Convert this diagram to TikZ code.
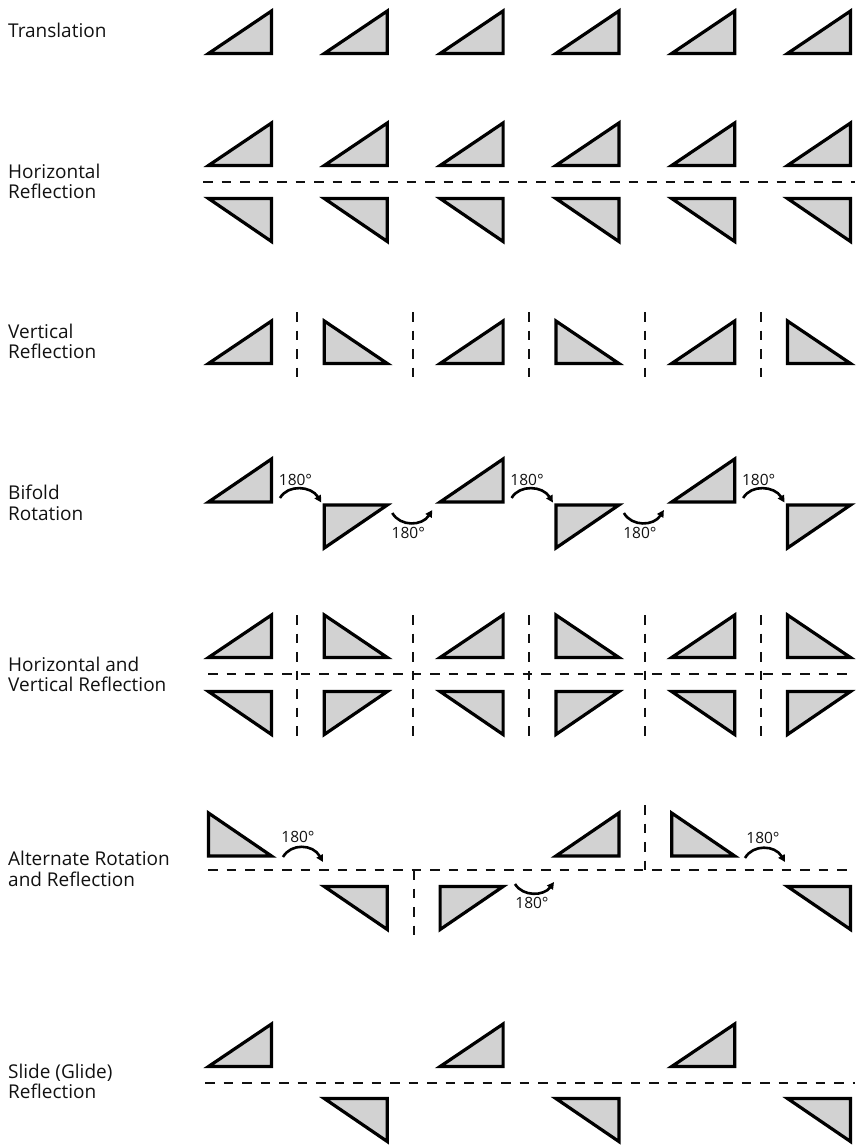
\documentclass[tikz,border=0pt]{standalone}
\usepackage{fontspec}
\setmainfont{Open Sans}
\usetikzlibrary{arrows.meta,calc}
\definecolor{trifill}{HTML}{D2D2D2}
\definecolor{ink}{HTML}{111111}
\tikzset{
  tri/.style={draw=black, fill=trifill, line width=3.2pt, line join=miter},
  mirrorline/.style={draw=ink, line width=2pt, dash pattern=on 9.5pt off 9pt},
  rotarrow/.style={draw=black, line width=2.6pt, -{Triangle[length=7pt,width=7pt]}},
  lbl/.style={anchor=base west, align=left, text=ink, font=\fontsize{19}{20.5}\selectfont, inner sep=0pt},
  deg/.style={text=ink, font=\fontsize{15.5}{15.5}\selectfont, inner sep=0pt},
}
\newcommand\tria[4]{%
  \pgfmathsetmacro\triR{271.5+115.8*#2}%
  \pgfmathsetmacro\triL{\triR-63}%
  \ifx N#1 \draw[tri] (\triL,#4) -- (\triR,#4) -- (\triR,#3) -- cycle;\fi
  \ifx V#1 \draw[tri] (\triL,#4) -- (\triR,#4) -- (\triL,#3) -- cycle;\fi
  \ifx H#1 \draw[tri] (\triL,#3) -- (\triR,#3) -- (\triR,#4) -- cycle;\fi
  \ifx O#1 \draw[tri] (\triL,#3) -- (\triR,#3) -- (\triL,#4) -- cycle;\fi
}
\begin{document}
\begin{tikzpicture}[x=1pt,y=-1pt]
\useasboundingbox (0,0) rectangle (855,1145);

% labels (base anchor = baseline of the last line)
\node[lbl] (l1) at (8,38) {Translation};
\node[lbl] (l2) at (8,198.5) {Horizontal\\Reflection};
\node[lbl] (l3) at (8,358.5) {Vertical\\Reflection};
\node[lbl] (l4) at (8,520) {Bifold\\Rotation};
\node[lbl] (l5) at (8,691.5) {Horizontal and\\Vertical Reflection};
\node[lbl] (l6) at (8,886) {Alternate Rotation\\and Reflection};
\node[lbl] (l7) at (8,1098.5) {Slide (Glide)\\Reflection};

% row 1: translation
\foreach \c in {0,...,5} {\tria{N}{\c}{11}{53.5}}

% row 2: horizontal reflection
\draw[mirrorline] (203,182) -- (855,182);
\foreach \c in {0,...,5} {\tria{N}{\c}{123}{165.5}\tria{H}{\c}{198.5}{241.5}}

% row 3: vertical reflection
\foreach \k in {0,...,4} {\draw[mirrorline] ({297.4+115.8*\k},312) -- ({297.4+115.8*\k},377);}
\foreach \c in {0,2,4} {\tria{N}{\c}{321}{363.5}}
\foreach \c in {1,3,5} {\tria{V}{\c}{321}{363.5}}

% row 4: bifold rotation
\foreach \c in {0,2,4} {\tria{N}{\c}{459}{502}}
\foreach \c in {1,3,5} {\tria{O}{\c}{505}{548}}
\foreach \k in {0,2,4} {
  \pgfmathsetmacro\rr{271.5+115.8*\k}
  \coordinate (up\k s) at (\rr+8.5,498);
  \coordinate (up\k e) at (\rr+49.8,502.5);
  \draw[rotarrow] (up\k s) .. controls ($(up\k s)+(8,-14)$) and ($(up\k e)+(-10,-16.5)$) .. (up\k e);
  \node[deg] (du\k) at (\rr+24,480) {180°};
}
\foreach \k in {1,3} {
  \pgfmathsetmacro\rr{271.5+115.8*\k}
  \coordinate (dn\k s) at (\rr+5,513);
  \coordinate (dn\k e) at (\rr+45,510);
  \draw[rotarrow] (dn\k s) .. controls ($(dn\k s)+(8,14)$) and ($(dn\k e)+(-10,16)$) .. (dn\k e);
  \node[deg] (dd\k) at (\rr+21,533) {180°};
}

% row 5: horizontal and vertical reflection
\draw[mirrorline] (208,674) -- (855,674);
\foreach \k in {0,...,4} {\draw[mirrorline] ({297.4+115.8*\k},615) -- ({297.4+115.8*\k},737);}
\foreach \c in {0,2,4} {\tria{N}{\c}{615}{657.5}\tria{H}{\c}{691.5}{734.5}}
\foreach \c in {1,3,5} {\tria{V}{\c}{615}{657.5}\tria{O}{\c}{691.5}{734.5}}

% row 6: alternate rotation and reflection
\draw[mirrorline] (208,870) -- (855,870);
\draw[mirrorline] (414,870) -- (414,935);
\draw[mirrorline] (645,805) -- (645,870);
\tria{V}{0}{813}{856}
\tria{H}{1}{886.5}{929.5}
\tria{O}{2}{886.5}{929.5}
\tria{N}{3}{813}{856}
\tria{V}{4}{813}{856}
\tria{H}{5}{886.5}{929.5}
\coordinate (ra s) at (283,857);
\coordinate (ra e) at (323,862);
\draw[rotarrow] (ra s) .. controls (291,843) and (313,844) .. (ra e);
\node[deg] (da) at (298,837) {180°};
\coordinate (rb s) at (515,884);
\coordinate (rb e) at (554,882);
\draw[rotarrow] (rb s) .. controls (523,897) and (544,896) .. (rb e);
\node[deg] (db) at (532,903) {180°};
\coordinate (rc s) at (745,858);
\coordinate (rc e) at (785,862);
\draw[rotarrow] (rc s) .. controls (753,844) and (775,845) .. (rc e);
\node[deg] (dc) at (763,838) {180°};

% row 7: slide (glide) reflection
\draw[mirrorline] (205,1083) -- (855,1083);
\foreach \c in {0,2,4} {\tria{N}{\c}{1024}{1066.5}}
\foreach \c in {1,3,5} {\tria{H}{\c}{1098.5}{1141.5}}
\end{tikzpicture}
\end{document}
